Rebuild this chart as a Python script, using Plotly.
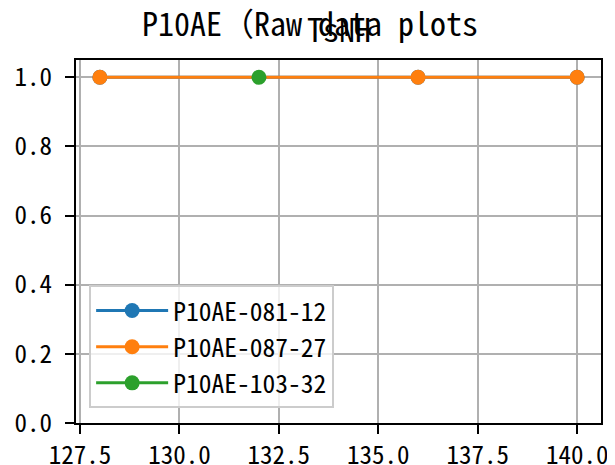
import plotly.graph_objects as go

series_names = ["P10AE-081-12", "P10AE-087-27", "P10AE-103-32"]
series_x = [[128, 136, 140], [128, 136, 140], [132]]
series_y = [[1.0, 1.0, 1.0], [1.0, 1.0, 1.0], [1.0]]
colors = ["#1f77b4", "#ff7f0e", "#2ca02c"]
x_ticks = [127.5, 130.0, 132.5, 135.0, 137.5, 140.0]
y_ticks = [0.0, 0.2, 0.4, 0.6, 0.8, 1.0]
suptitle = "P10AE（Raw data plots"
title = "TsNH"

FONT = "Noto Sans Mono CJK JP, Noto Sans CJK JP, DejaVu Sans Mono, monospace"

fig = go.Figure()
for name, xs, ys, c in zip(series_names, series_x, series_y, colors):
    fig.add_trace(go.Scatter(x=xs, y=ys, name=name, mode="lines+markers",
                             line=dict(color=c, width=3),
                             marker=dict(color=c, size=15)))

axis_common = dict(showline=True, linecolor="black", linewidth=2, mirror=True,
                   ticks="outside", ticklen=9, tickwidth=2, tickcolor="black",
                   showgrid=True, gridcolor="#b0b0b0", gridwidth=1.5,
                   zeroline=False, automargin=False,
                   tickfont=dict(family=FONT, size=25, color="black"))

fig.update_xaxes(range=[127.4, 140.6], tickvals=x_ticks,
                 ticktext=[f"{v:.1f}" for v in x_ticks], **axis_common)
fig.update_yaxes(range=[0, 1.05], tickvals=y_ticks, ticklabelstandoff=8,
                 ticktext=[f"{v:.1f}" for v in y_ticks], **axis_common)

fig.add_annotation(text=suptitle, x=0.4457, xref="paper", xanchor="center",
                   y=1.104, yref="paper", yanchor="middle", showarrow=False,
                   font=dict(family=FONT, size=32, color="black"))
fig.add_annotation(text=title, x=0.5, xref="paper", xanchor="center",
                   y=1.087, yref="paper", yanchor="middle", showarrow=False,
                   font=dict(family=FONT, size=32, color="black"))

fig.update_layout(width=607, height=457,
                  margin=dict(l=68, r=14, t=52, b=42),
                  paper_bgcolor="white", plot_bgcolor="white",
                  font=dict(family=FONT, size=25, color="black"),
                  legend=dict(x=0.025, y=0.04, xanchor="left", yanchor="bottom",
                              bgcolor="rgba(255,255,255,0.8)", bordercolor="#cccccc",
                              borderwidth=2, font=dict(family=FONT, size=25.5, color="black"),
                              tracegroupgap=0, itemwidth=72))

fig.write_html("out.html")
